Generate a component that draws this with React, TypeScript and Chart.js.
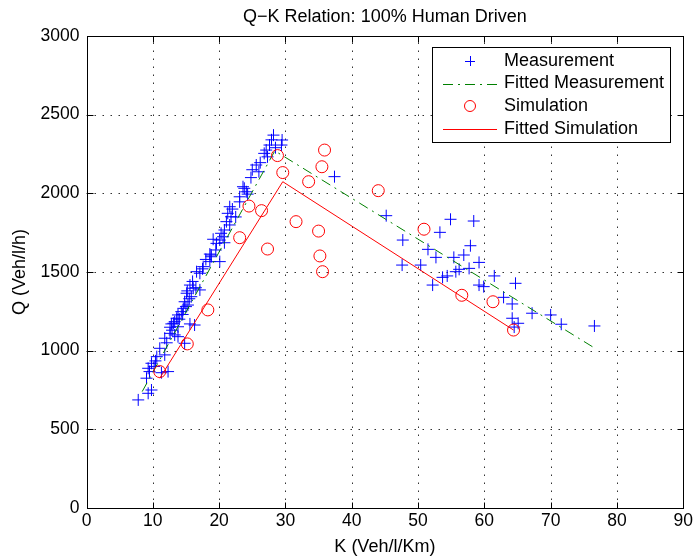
import React, { useEffect, useRef } from "react";
import { Chart, registerables } from "chart.js";
Chart.register(...registerables);

const FONT = '"Liberation Sans", Arial, Helvetica, sans-serif';

const titleText = "Q\u2212K Relation: 100% Human Driven";
const xTitle = "K (Veh/l/Km)";
const yTitle = "Q (Veh/l/h)";
const seriesLabels = ["Measurement", "Fitted Measurement", "Simulation", "Fitted Simulation"];

const xTicks = [0, 10, 20, 30, 40, 50, 60, 70, 80, 90];
const yTicks = [0, 500, 1000, 1500, 2000, 2500, 3000];

const measK = [
  7.8, 9.3, 9.8, 9.05, 9.5, 9.3, 9.8, 10.6, 11.8, 11.05, 11.3, 12.3, 11.8, 12.6, 13.3, 13.8, 14.8,
  13.1, 13.8, 16.3, 12.6, 12.8, 13.3, 13.6, 13.8, 14.3, 14.6, 15.3, 14.8, 15.8, 15.1, 17.1, 16.1,
  15.6, 15.6, 17.1, 16.6, 17.6, 18.6, 20.1, 18.8, 18.8, 18.6, 19.6, 20.8, 20.1, 19.1, 20.6, 20.3,
  20.8, 21.6, 21.1, 21.8, 21.3, 21.6, 23.1, 23.1, 24.3, 24.1, 23.6, 23.8, 26.0, 25.6, 26.2, 27.3,
  26.8, 27.1, 27.6, 29.4, 29.5, 28.2,
  10.2, 10.4, 12.1, 12.9, 14.0, 14.5, 15.0, 15.5, 15.2, 16.0, 16.5, 17.5, 18.0, 19.5, 22.0, 22.5,
  24.8, 25.0, 28.5, 27.9,
  37.4, 45.2, 47.7, 47.6, 50.4, 53.3, 54.9, 58.4, 51.5, 52.7, 55.4, 56.9, 57.9, 56.2, 57.7, 59.2,
  53.7, 54.4, 55.7, 52.2, 59.2, 59.9, 61.5, 64.7, 62.9, 64.2, 67.2, 70.0, 71.6, 76.6, 64.2, 65.1,
  64.5,
];
const measQ = [
  687, 729, 750, 825, 867, 888, 920, 962, 973, 1015, 860, 867, 1079, 1110, 1100, 1089, 1047,
  1174, 1152, 1163, 1149, 1170, 1184, 1206, 1227, 1248, 1269, 1290, 1311, 1343, 1365, 1386, 1397,
  1417, 1170, 1492, 1502, 1534, 1566, 1566, 1608, 1597, 1614, 1682, 1686, 1703, 1708, 1724, 1746,
  1767, 1799, 1820, 1851, 1873, 1915, 1946, 1978, 1995, 2010, 2042, 2032, 2137, 2180, 2195, 2232,
  2254, 2275, 2307, 2307, 2339, 2370,
  900, 935, 1050, 1130, 1200, 1230, 1280, 1330, 1380, 1440, 1400, 1520, 1580, 1640, 1900, 1850,
  2100, 2150, 2290, 2340,
  2106, 1858, 1703, 1544, 1544, 1752, 1835, 1824, 1644, 1593, 1593, 1608, 1667, 1517, 1523, 1561,
  1466, 1475, 1502, 1417, 1417, 1407, 1475, 1428, 1339, 1297, 1238, 1227, 1168, 1157, 1206, 1174,
  1150,
];

const simK = [11.05, 15.2, 18.3, 23.1, 24.5, 26.4, 27.3, 28.8, 29.6, 31.6, 33.5, 35.5, 35.9, 35.0, 35.2, 35.6, 44.0, 50.9, 56.6, 61.3, 64.4];
const simQ = [867, 1043, 1259, 1718, 1919, 1890, 1646, 2240, 2132, 1820, 2074, 2169, 2275, 1760, 1602, 1502, 2017, 1772, 1352, 1311, 1131];

const fitMeasK = [8.4, 28.4, 76.5];
const fitMeasQ = [740, 2270, 1020];
const fitSimK = [11.05, 29.6, 64.4];
const fitSimQ = [825, 2074, 1131];

const toPts = (xs: number[], ys: number[]) => xs.map((k, i) => ({ x: k, y: ys[i] }));

const matlabPlugin = {
  id: "matlabFrame",
  beforeDatasetsDraw(chart: any) {
    const { ctx, chartArea: a, scales } = chart;
    const x = scales.x, y = scales.y;
    ctx.save();
    ctx.strokeStyle = "#333";
    ctx.lineWidth = 1;
    ctx.setLineDash([1.5, 6.5]);
    x.ticks.forEach((t: any) => {
      if (t.value <= x.min || t.value >= x.max) return;
      const px = Math.round(x.getPixelForValue(t.value)) + 0.5;
      ctx.beginPath();
      ctx.moveTo(px, a.bottom);
      ctx.lineTo(px, a.top);
      ctx.stroke();
    });
    y.ticks.forEach((t: any) => {
      if (t.value <= y.min || t.value >= y.max) return;
      const py = Math.round(y.getPixelForValue(t.value)) + 0.5;
      ctx.beginPath();
      ctx.moveTo(a.left, py);
      ctx.lineTo(a.right, py);
      ctx.stroke();
    });
    ctx.restore();
  },
  afterDatasetsDraw(chart: any) {
    const { ctx, chartArea: a, scales } = chart;
    const x = scales.x, y = scales.y;
    ctx.save();
    ctx.setLineDash([]);
    ctx.strokeStyle = "#000";
    ctx.lineWidth = 1;
    const L = Math.round(a.left) + 0.5, R = Math.round(a.right) + 0.5;
    const T = Math.round(a.top) + 0.5, B = Math.round(a.bottom) + 0.5;
    ctx.strokeRect(L, T, R - L, B - T);
    const tl = 6;
    x.ticks.forEach((t: any) => {
      const px = Math.round(x.getPixelForValue(t.value)) + 0.5;
      ctx.beginPath();
      ctx.moveTo(px, B); ctx.lineTo(px, B - tl);
      ctx.moveTo(px, T); ctx.lineTo(px, T + tl);
      ctx.stroke();
    });
    y.ticks.forEach((t: any) => {
      const py = Math.round(y.getPixelForValue(t.value)) + 0.5;
      ctx.beginPath();
      ctx.moveTo(L, py); ctx.lineTo(L + tl, py);
      ctx.moveTo(R, py); ctx.lineTo(R - tl, py);
      ctx.stroke();
    });

    // titles
    ctx.fillStyle = "#000";
    ctx.font = `18px ${FONT}`;
    ctx.textAlign = "center";
    ctx.textBaseline = "middle";
    const cx = (a.left + a.right) / 2;
    ctx.fillText(titleText, cx, 17);
    ctx.fillText(xTitle, cx, 547);
    ctx.save();
    ctx.translate(20, (a.top + a.bottom) / 2);
    ctx.rotate(-Math.PI / 2);
    ctx.fillText(yTitle, 0, 0);
    ctx.restore();

    // legend
    const bx = 432.5, by = 47.5, bw = 238, bh = 95;
    ctx.fillStyle = "#fff";
    ctx.fillRect(bx, by, bw, bh);
    ctx.strokeStyle = "#000";
    ctx.strokeRect(bx, by, bw, bh);
    const ds = chart.data.datasets;
    const rowY = [61, 83.5, 106, 129];
    ctx.font = `18px ${FONT}`;
    ctx.textAlign = "left";
    ds.forEach((d: any, i: number) => {
      const ry = rowY[i];
      ctx.save();
      if (d.showLine) {
        ctx.strokeStyle = d.borderColor;
        ctx.lineWidth = d.borderWidth || 1;
        ctx.setLineDash(d.borderDash || []);
        ctx.beginPath();
        ctx.moveTo(443, Math.round(ry) + 0.5);
        ctx.lineTo(497, Math.round(ry) + 0.5);
        ctx.stroke();
      } else if (d.pointStyle === "cross") {
        ctx.strokeStyle = d.pointBorderColor;
        ctx.lineWidth = 1;
        ctx.beginPath();
        ctx.moveTo(465, Math.round(ry) + 0.5); ctx.lineTo(475, Math.round(ry) + 0.5);
        ctx.moveTo(470.5, ry - 5); ctx.lineTo(470.5, ry + 5);
        ctx.stroke();
      } else {
        ctx.strokeStyle = d.pointBorderColor;
        ctx.lineWidth = 1;
        ctx.beginPath();
        ctx.arc(470, ry, 5.5, 0, Math.PI * 2);
        ctx.stroke();
      }
      ctx.restore();
      ctx.fillStyle = "#000";
      ctx.textBaseline = "middle";
      ctx.fillText(d.label, 504, ry);
    });
    ctx.restore();
  },
};

export default function App() {
  const ref = useRef<HTMLCanvasElement>(null);
  useEffect(() => {
    const canvas = ref.current!;
    const chart = new Chart(canvas, {
      type: "scatter",
      data: {
        datasets: [
          {
            label: seriesLabels[0], data: toPts(measK, measQ), pointStyle: "cross", pointRadius: 6,
            pointBorderColor: "#0000ff", pointBackgroundColor: "#0000ff", pointBorderWidth: 1,
            borderColor: "#0000ff", showLine: false, order: 4,
          },
          {
            label: seriesLabels[1], data: toPts(fitMeasK, fitMeasQ), showLine: true, borderColor: "#008000",
            borderWidth: 1, borderDash: [10, 5, 2, 5], pointRadius: 0, order: 3, fill: false,
          },
          {
            label: seriesLabels[2], data: toPts(simK, simQ), pointStyle: "circle", pointRadius: 6,
            pointBorderColor: "#ff0000", pointBackgroundColor: "rgba(0,0,0,0)", pointBorderWidth: 1,
            borderColor: "#ff0000", showLine: false, order: 2,
          },
          {
            label: seriesLabels[3], data: toPts(fitSimK, fitSimQ), showLine: true, borderColor: "#ff0000",
            borderWidth: 1, pointRadius: 0, order: 1, fill: false,
          },
        ] as any,
      },
      options: {
        animation: false,
        responsive: false,
        events: [],
        layout: { padding: { left: 0, top: 36, right: 11, bottom: 0 } },
        plugins: { legend: { display: false }, tooltip: { enabled: false }, title: { display: false } },
        elements: { line: { tension: 0 } },
        scales: {
          x: {
            type: "linear", min: 0, max: 90,
            afterBuildTicks: (s: any) => { s.ticks = xTicks.map((v) => ({ value: v })); },
            afterFit: (s: any) => { s.height = 51; },
            ticks: {
              color: "#000", font: { family: FONT, size: 17.5 }, padding: 3, maxRotation: 0, autoSkip: false,
              callback: (v: any) => String(v),
            },
            grid: { display: false, drawTicks: false },
            border: { display: false },
          },
          y: {
            type: "linear", min: 0, max: 3000,
            afterBuildTicks: (s: any) => { s.ticks = yTicks.map((v) => ({ value: v })); },
            afterFit: (s: any) => { s.width = 86.5; },
            ticks: {
              color: "#000", font: { family: FONT, size: 17.5 }, padding: 7, autoSkip: false,
              callback: (v: any) => String(v),
            },
            grid: { display: false, drawTicks: false },
            border: { display: false },
          },
        },
      } as any,
      plugins: [matlabPlugin],
    });
    return () => chart.destroy();
  }, []);
  return (
    <div style={{ position: "absolute", left: 0, top: 0, width: 696, height: 559, background: "#fff" }}>
      <canvas ref={ref} width={696} height={559} style={{ display: "block" }} />
    </div>
  );
}
